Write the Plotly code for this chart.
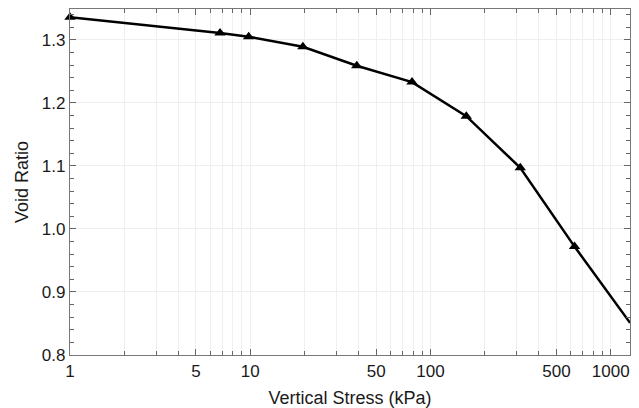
import plotly.graph_objects as go

# consolidation test: vertical stress (kPa) vs void ratio
stress_kpa = [1, 6.8, 9.8, 19.6, 39, 79, 158, 315, 630, 1280]
void_ratio = [1.336, 1.311, 1.305, 1.289, 1.259, 1.233, 1.179, 1.097, 0.972, 0.851]

x_ticks = [1, 5, 10, 50, 100, 500, 1000]
x_minor = [m * 10 ** d for d in range(4) for m in range(2, 10)]
y_ticks = [0.8, 0.9, 1.0, 1.1, 1.2, 1.3]

fig = go.Figure()

fig.add_trace(go.Scatter(
    x=stress_kpa, y=void_ratio,
    mode="lines+markers",
    line=dict(color="black", width=2.5),
    marker=dict(symbol="triangle-up", size=10, color="black"),
    cliponaxis=False,
    showlegend=False,
))

axis_font = dict(family="Liberation Sans, Arial, sans-serif", size=17, color="#1a1a1a")

fig.update_xaxes(
    type="log", range=[0, 3.107], automargin=False,
    tickvals=x_ticks, ticktext=[str(v) for v in x_ticks],
    ticks="inside", ticklen=6, tickcolor="#666",
    showline=True, linecolor="#777", linewidth=1.2, mirror="ticks",
    showgrid=True, gridcolor="#efefef", gridwidth=1,
    minor=dict(tickvals=x_minor, ticks="inside", ticklen=4, tickcolor="#666",
               showgrid=True, gridcolor="#efefef"),
    tickfont=axis_font,
    title=dict(text="Vertical Stress (kPa)", font=dict(axis_font, size=18), standoff=11),
    zeroline=False,
)

fig.update_yaxes(
    range=[0.8, 1.349], automargin=False,
    tickvals=y_ticks, tickformat=".1f",
    ticks="inside", ticklen=6, tickcolor="#666",
    showline=True, linecolor="#777", linewidth=1.2, mirror="ticks",
    showgrid=True, gridcolor="#efefef", gridwidth=1,
    minor=dict(dtick=0.02, ticks="inside", ticklen=4, tickcolor="#666", showgrid=False),
    tickfont=axis_font,
    title=dict(text="Void Ratio", font=dict(axis_font, size=18), standoff=8),
    zeroline=False,
)

fig.update_layout(
    width=639, height=408,
    margin=dict(l=70, r=9, t=9, b=53),
    paper_bgcolor="white", plot_bgcolor="white",
)

fig.write_html("out.html", config={"displayModeBar": False},
               post_script="document.body.style.margin='0';")
